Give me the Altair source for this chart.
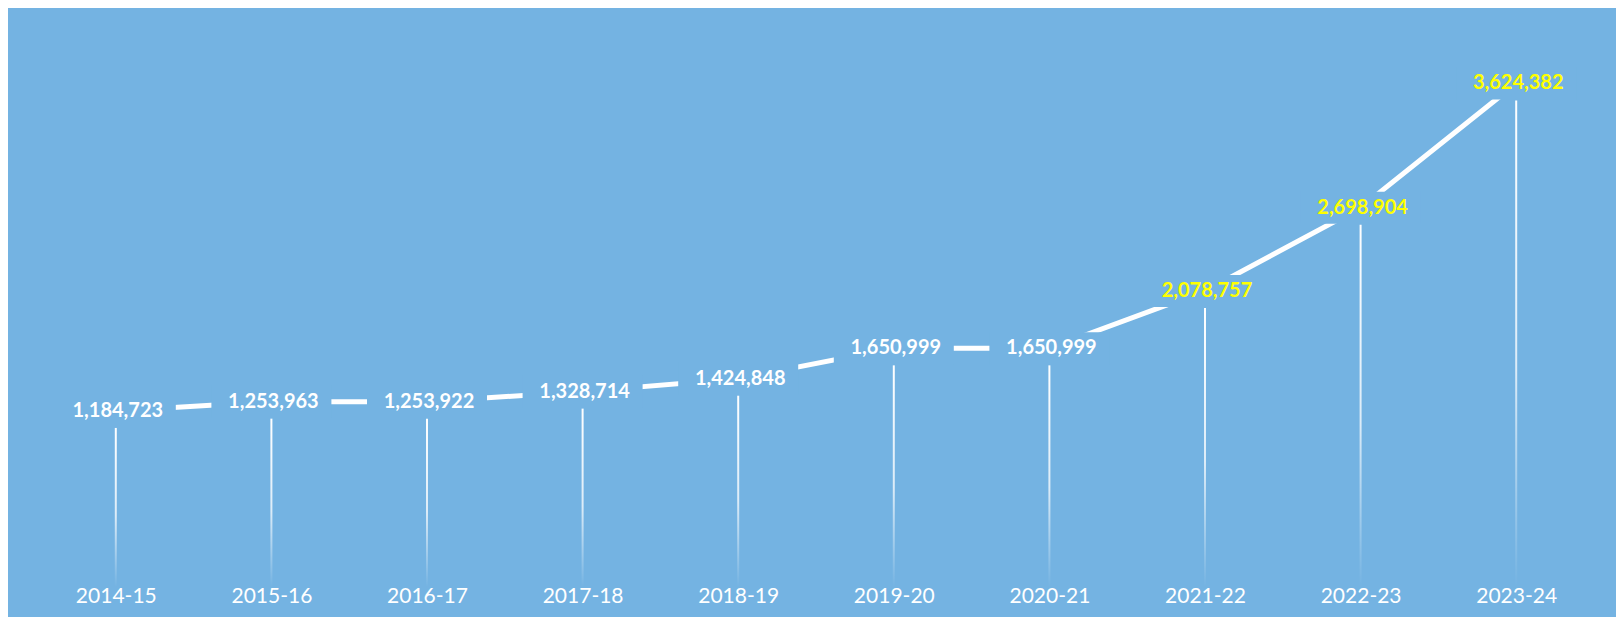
import altair as alt
import pandas as pd

years = ["2014-15", "2015-16", "2016-17", "2017-18", "2018-19",
         "2019-20", "2020-21", "2021-22", "2022-23", "2023-24"]
values = [1184723, 1253963, 1253922, 1328714, 1424848,
          1650999, 1650999, 2078757, 2698904, 3624382]
highlighted = ["2021-22", "2022-23", "2023-24"]

BG = "#74b3e2"
df = pd.DataFrame({"year": years, "value": values})

x = alt.X("year:N", sort=years,
          scale=alt.Scale(type="point", padding=0.5),
          axis=alt.Axis(title=None, domain=False, ticks=False, tickSize=0, grid=False,
                        labelAngle=0, labelColor="white", labelFont="Lato",
                        labelFontSize=21, labelBaseline="middle", labelPadding=9))
y = alt.Y("value:Q", scale=alt.Scale(domain=[0, 4000000]), axis=None)

base = alt.Chart(df).encode(x=x, y=y)

line = base.mark_line(color="white", strokeWidth=5, yOffset=-17, strokeCap="butt")

mask_shape = "M-1,-0.2667 L1,-0.2667 L1,0.2667 L-1,0.2667 Z"
mask = base.mark_point(shape=mask_shape, size=14400, filled=True, fill=BG,
                       stroke=BG, strokeWidth=0, opacity=1, yOffset=-17)

grad = alt.LinearGradient(
    gradient="linear", x1=0, y1=0, x2=0, y2=1,
    stops=[alt.GradientStop(offset=0, color="rgba(255,255,255,1)"),
           alt.GradientStop(offset=0.55, color="rgba(255,255,255,0.75)"),
           alt.GradientStop(offset=1, color="rgba(255,255,255,0)")])
drops = base.mark_bar(size=2, color=grad).encode(y2=alt.datum(0))

labels = base.mark_text(font="Lato", fontSize=20, fontWeight="bold",
                        baseline="middle", align="center", dx=2, yOffset=-17).encode(
    text=alt.Text("value:Q", format=","),
    color=alt.condition(alt.FieldOneOfPredicate(field="year", oneOf=highlighted),
                        alt.value("#ffff00"), alt.value("white")))

chart = alt.layer(line, mask, drops, labels).properties(
    width=1556, height=537,
    background=BG,
    padding={"left": 30, "top": 42, "right": 22, "bottom": 30},
    autosize=alt.AutoSizeParams(type="none"),
).configure_view(stroke=None)

chart.save("out.html", embed_options={"renderer": "svg", "actions": False})
